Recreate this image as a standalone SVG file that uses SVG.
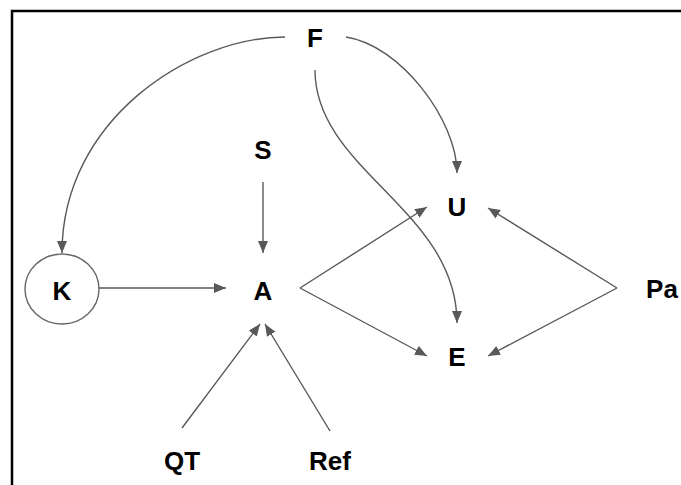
<svg xmlns="http://www.w3.org/2000/svg" width="681" height="485" viewBox="0 0 681 485">
<defs>
<marker id="ah" markerUnits="userSpaceOnUse" markerWidth="13" markerHeight="11" refX="12" refY="5" orient="auto">
<path d="M0,0 L12,5 L0,10 z" fill="#595959"/>
</marker>
<style>
.lbl{font-family:"Liberation Sans",Arial,sans-serif;font-weight:bold;font-size:26px;fill:#000;text-anchor:middle}
.c{fill:none;stroke:#595959;stroke-width:1.4;marker-end:url(#ah)}
</style>
</defs>
<rect width="681" height="485" fill="#fff"/>
<path d="M12,485 V11 H681" fill="none" stroke="#000" stroke-width="2.5"/>
<g id="connectors">
<path class="c" d="M285,37 C190,37 62,120 62,253"/>
<path class="c" d="M346,37 C400,45 457,120 457,173"/>
<path class="c" d="M315,70 C315,170 457,210 457,323"/>
<path class="c" d="M263,182 L263,253"/>
<path class="c" d="M99,288 L226,288"/>
<path class="c" d="M300,288 L427,207"/>
<path class="c" d="M300,288 L427,356"/>
<path class="c" d="M617,288 L488,208"/>
<path class="c" d="M617,288 L488,356"/>
<path class="c" d="M182,428 L260,324"/>
<path class="c" d="M330,431 L265,324"/>
</g>
<g id="node-F"><text class="lbl" x="315" y="47">F</text></g>
<g id="node-S"><text class="lbl" x="263" y="159">S</text></g>
<g id="node-K"><ellipse cx="62" cy="289" rx="37" ry="35" fill="none" stroke="#666" stroke-width="1.4"/><text class="lbl" x="62" y="300">K</text></g>
<g id="node-A"><text class="lbl" x="263" y="300">A</text></g>
<g id="node-U"><text class="lbl" x="457" y="216">U</text></g>
<g id="node-E"><text class="lbl" x="457" y="366">E</text></g>
<g id="node-Pa"><text class="lbl" x="662" y="298">Pa</text></g>
<g id="node-QT"><text class="lbl" x="182" y="470">QT</text></g>
<g id="node-Ref"><text class="lbl" x="330" y="470">Ref</text></g>
</svg>
